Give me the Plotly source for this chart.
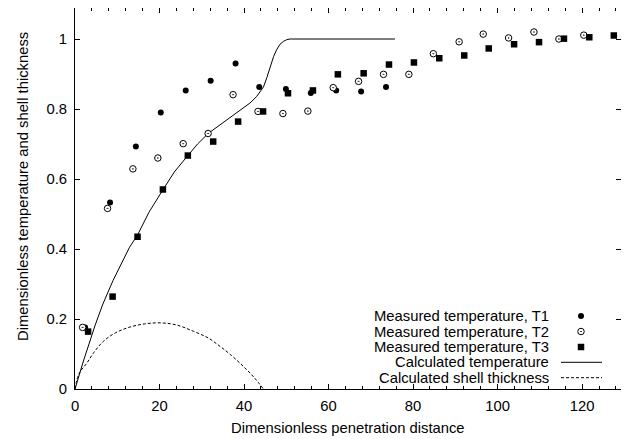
import plotly.graph_objects as go

# ---------------- data ----------------
t1_x = [2.4, 8.3, 14.4, 20.3, 26.2, 32.1, 38.0, 43.6, 49.9, 55.8, 61.8, 67.7, 73.6]
t1_y = [0.176, 0.533, 0.693, 0.790, 0.853, 0.881, 0.930, 0.863, 0.857, 0.846, 0.853, 0.850, 0.863]

t2_x = [1.8, 7.7, 13.7, 19.6, 25.6, 31.5, 37.4, 43.3, 49.2, 55.1, 61.1, 67.1, 73.0, 79.0,
        84.8, 90.9, 96.6, 102.6, 108.6, 114.5, 120.4]
t2_y = [0.176, 0.516, 0.629, 0.660, 0.701, 0.730, 0.841, 0.793, 0.787, 0.794, 0.861, 0.879,
        0.899, 0.899, 0.958, 0.992, 1.014, 1.003, 1.020, 1.000, 1.011]

t3_x = [3.1, 8.9, 14.8, 20.8, 26.7, 32.7, 38.6, 44.5, 50.4, 56.3, 62.2, 68.3, 74.3, 80.2,
        86.2, 92.1, 97.9, 103.9, 109.8, 115.7, 121.7, 127.5]
t3_y = [0.164, 0.264, 0.435, 0.570, 0.667, 0.707, 0.764, 0.793, 0.845, 0.853, 0.899, 0.902,
        0.927, 0.933, 0.945, 0.953, 0.973, 0.985, 0.991, 1.001, 1.005, 1.010]

calc_t_x = [0, 2, 4.7, 6.5, 9, 12.9, 14.8, 17.5, 20.9, 23.5, 26.7, 29, 31.5, 34.5, 37.5, 40,
            41.4, 43, 44.6, 45.4, 46.2, 47, 47.7, 48.5, 49.3, 50.1, 50.9, 75.7]
calc_t_y = [0, 0.08, 0.18, 0.24, 0.31, 0.405, 0.44, 0.505, 0.571, 0.62, 0.667, 0.70, 0.73,
            0.757, 0.784, 0.805, 0.817, 0.836, 0.863, 0.89, 0.922, 0.95, 0.969, 0.985, 0.993,
            0.998, 1.0, 1.0]

shell_x = [0, 1, 2.8, 4.5, 6.7, 9.5, 13.0, 16.5, 20.1, 24, 28, 31.5, 34.3, 37, 39.8, 42.3, 44.6]
shell_y = [0, 0.045, 0.074, 0.105, 0.136, 0.160, 0.177, 0.186, 0.189, 0.183, 0.165, 0.146,
           0.122, 0.096, 0.065, 0.034, 0.0]

x_ticks = [0, 20, 40, 60, 80, 100, 120]
y_ticks = [0, 0.2, 0.4, 0.6, 0.8, 1.0]
y_tick_text = ["0", "0.2", "0.4", "0.6", "0.8", "1"]

legend_labels = ["Measured temperature, T1", "Measured temperature, T2",
                 "Measured temperature, T3", "Calculated temperature",
                 "Calculated shell thickness"]

x_title = "Dimensionless penetration distance"
y_title = "Dimensionless temperature and shell thickness"

# ---------------- layout constants ----------------
# the page body has an 8px margin, so the figure is drawn offset by (8, 8)
OFF = 8
W, H = 629 - OFF, 439 - OFF
ML, MR, MT, MB = 75 - OFF, 8, 0, 50
PW, PH = W - ML - MR, H - MT - MB
PLOT_LEFT_PAGE = ML + OFF
PLOT_TOP_PAGE = MT + OFF
FONT = "Liberation Sans, Arial, sans-serif"
FS = 14.8

X_MAX = 129.2
Y_MAX = PH / 350.0  # 350 px per unit on the y axis

# legend placement (page pixels)
LEG_TEXT_X = 551
LEG_SYM_X = 581
LEG_LINE_X0, LEG_LINE_X1 = 561, 602
LEG_ROWS_Y = [316, 331.5, 347, 362.3, 377.7]

XTITLE_Y = 428
YTITLE_X = 23
YTITLE_Y = 187


def px2paper_x(px):
    return (px - PLOT_LEFT_PAGE) / PW


def px2paper_y(py):
    return 1 - (py - PLOT_TOP_PAGE) / PH


fig = go.Figure()

mk_t1 = dict(symbol="circle", size=6, color="black", line=dict(width=0))
mk_t2 = dict(symbol="circle-dot", size=6.5, color="white", line=dict(width=1, color="black"))
mk_t3 = dict(symbol="square", size=6.5, color="black", line=dict(width=0))

fig.add_trace(go.Scatter(x=calc_t_x, y=calc_t_y, mode="lines",
                         line=dict(color="black", width=1), showlegend=False))
fig.add_trace(go.Scatter(x=shell_x, y=shell_y, mode="lines", line_shape="spline",
                         line=dict(color="black", width=1, dash="3px,2px"), showlegend=False))
fig.add_trace(go.Scatter(x=t1_x, y=t1_y, mode="markers", marker=mk_t1, showlegend=False))
fig.add_trace(go.Scatter(x=t2_x, y=t2_y, mode="markers", marker=mk_t2, showlegend=False))
fig.add_trace(go.Scatter(x=t3_x, y=t3_y, mode="markers", marker=mk_t3, showlegend=False))

# legend samples on an overlay pixel axis
for i, mk in enumerate([mk_t1, mk_t2, mk_t3]):
    fig.add_trace(go.Scatter(x=[LEG_SYM_X - PLOT_LEFT_PAGE], y=[LEG_ROWS_Y[i] - PLOT_TOP_PAGE],
                             mode="markers", marker=mk, xaxis="x2", yaxis="y2",
                             showlegend=False, hoverinfo="skip"))
fig.add_trace(go.Scatter(x=[LEG_LINE_X0 - PLOT_LEFT_PAGE, LEG_LINE_X1 - PLOT_LEFT_PAGE],
                         y=[LEG_ROWS_Y[3] - PLOT_TOP_PAGE] * 2,
                         mode="lines", line=dict(color="black", width=1),
                         xaxis="x2", yaxis="y2", showlegend=False, hoverinfo="skip"))
fig.add_trace(go.Scatter(x=[LEG_LINE_X0 - PLOT_LEFT_PAGE, LEG_LINE_X1 - PLOT_LEFT_PAGE],
                         y=[LEG_ROWS_Y[4] - PLOT_TOP_PAGE] * 2,
                         mode="lines", line=dict(color="black", width=1, dash="3px,2px"),
                         xaxis="x2", yaxis="y2", showlegend=False, hoverinfo="skip"))

annotations = []
for lab, yy in zip(legend_labels, LEG_ROWS_Y):
    annotations.append(dict(text=lab, xref="paper", yref="paper",
                            x=px2paper_x(LEG_TEXT_X), y=px2paper_y(yy),
                            xanchor="right", yanchor="middle", showarrow=False,
                            font=dict(family=FONT, size=FS, color="black")))
annotations.append(dict(text=x_title, xref="paper", yref="paper", x=0.5,
                        y=px2paper_y(XTITLE_Y), xanchor="center", yanchor="middle",
                        showarrow=False, font=dict(family=FONT, size=FS, color="black")))
annotations.append(dict(text=y_title, xref="paper", yref="paper", x=px2paper_x(YTITLE_X),
                        y=px2paper_y(YTITLE_Y), xanchor="center", yanchor="middle",
                        textangle=-90, showarrow=False,
                        font=dict(family=FONT, size=FS, color="black")))

axis_common = dict(showgrid=False, zeroline=False, showline=True, linecolor="black",
                   linewidth=1, mirror="ticks", ticks="inside", tickcolor="black",
                   tickwidth=1, ticklen=5,
                   tickfont=dict(family=FONT, size=FS, color="black"))

fig.update_layout(
    width=W, height=H,
    margin=dict(l=ML, r=MR, t=MT, b=MB, autoexpand=False),
    paper_bgcolor="white", plot_bgcolor="white",
    font=dict(family=FONT, size=FS, color="black"),
    xaxis=dict(range=[0, X_MAX], tickvals=x_ticks, ticklabelstandoff=3,
               minor=dict(dtick=4, ticks="inside", ticklen=3, tickcolor="black"),
               **axis_common),
    yaxis=dict(range=[0, Y_MAX], tickvals=y_ticks, ticktext=y_tick_text,
               ticklabelstandoff=4, **axis_common),
    xaxis2=dict(range=[0, PW], overlaying="x", visible=False, fixedrange=True),
    yaxis2=dict(range=[PH, 0], overlaying="y", visible=False, fixedrange=True),
    annotations=annotations,
)

fig.write_html("out.html")
